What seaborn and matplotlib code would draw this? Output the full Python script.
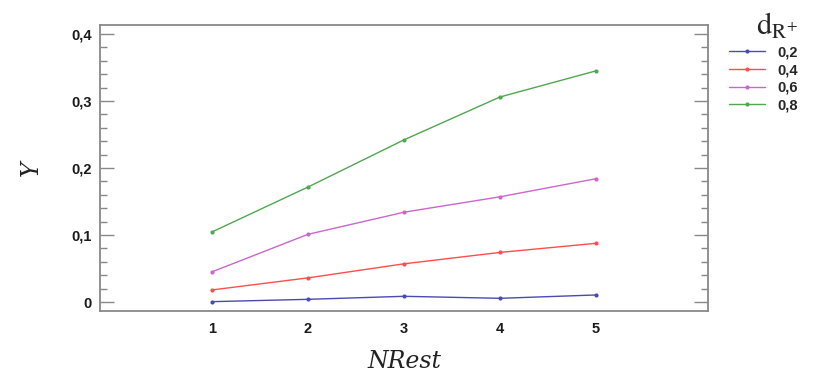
import numpy as np
import pandas as pd
import matplotlib
matplotlib.use("Agg")
import matplotlib.pyplot as plt
import seaborn as sns
from matplotlib.ticker import MultipleLocator, FuncFormatter

nrest = [1, 2, 3, 4, 5]
labels = ["0,2", "0,4", "0,6", "0,8"]
y_02 = [0.0005, 0.004, 0.0085, 0.0055, 0.0105]
y_04 = [0.018, 0.036, 0.057, 0.074, 0.0876]
y_06 = [0.045, 0.101, 0.134, 0.157, 0.184]
y_08 = [0.1045, 0.1716, 0.242, 0.306, 0.345]
colors = ["#4a4ab4", "#ff4d4d", "#cc66cc", "#4fa84f"]

series = [y_02, y_04, y_06, y_08]
df = pd.DataFrame({
    "NRest": nrest * 4,
    "Y": sum(series, []),
    "d": sum([[l] * 5 for l in labels], []),
})

sns.set_theme(style="white")
plt.rcParams['font.family'] = ['Liberation Sans', 'DejaVu Sans']
plt.rcParams['mathtext.fontset'] = 'stix'

fig = plt.figure(figsize=(8.19, 3.74), dpi=100)
ax = fig.add_axes([100/819, 1-311/374, 608/819, 286/374])
sns.lineplot(data=df, x="NRest", y="Y", hue="d", palette=colors, marker="o",
             markersize=3, markeredgewidth=0, linewidth=1.0, ax=ax, legend=True)

ax.set_xlim(1 - 112/96, 5 + 112/96)
ax.set_ylim(-9/670, 0.4 + 9/670)
ax.set_xticks(nrest)
ax.yaxis.set_major_locator(MultipleLocator(0.1))
ax.yaxis.set_minor_locator(MultipleLocator(0.02))
fmt = FuncFormatter(lambda v, p: "0" if abs(v) < 1e-9 else f"{v:.1f}".replace(".", ","))
ax.yaxis.set_major_formatter(fmt)
for s in ax.spines.values():
    s.set_color("#888888")
    s.set_linewidth(1.3)
ax.tick_params(axis="y", which="major", direction="in", length=10, width=1, color="#888888",
               left=True, right=True, labelsize=10.5, pad=6)
ax.tick_params(axis="y", which="minor", direction="in", length=5, width=1, color="#888888",
               left=True, right=True)
ax.tick_params(axis="x", which="both", length=0, labelsize=10.5, pad=8)
for t in ax.get_xticklabels() + ax.get_yticklabels():
    t.set_fontweight("bold")
    t.set_color("#1a1a1a")

ax.set_xlabel("NRest", fontsize=17, fontstyle="italic", family="DejaVu Serif", labelpad=10, color="#222222")
ax.set_ylabel("Y", fontsize=17, fontstyle="italic", family="DejaVu Serif", labelpad=20, color="#222222")

leg = ax.legend(loc="upper left", bbox_to_anchor=(1.013, 1.093), frameon=False,
                title=r"$\mathrm{d}_{\mathrm{R}^{+}}$", handlelength=2.5, labelspacing=0.25,
                prop={"weight": "bold", "size": 10.5})
leg.get_title().set_fontsize(22)
leg._legend_box.align = "right"

fig.savefig("out.png", dpi=100)
